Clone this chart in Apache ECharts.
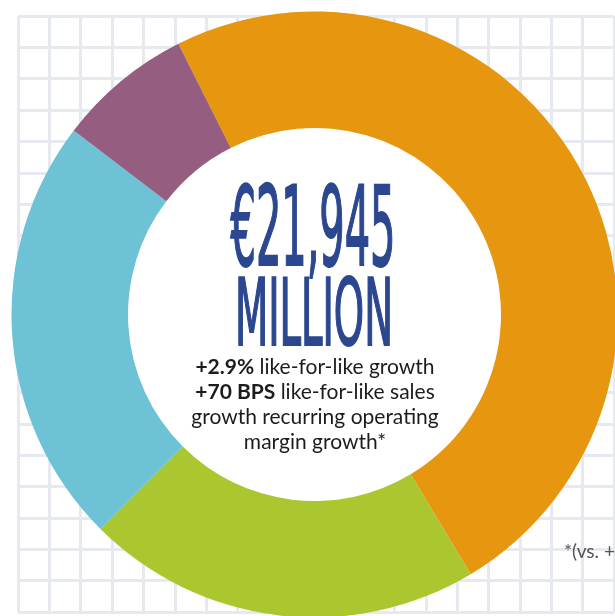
<!DOCTYPE html>
<html>
<head>
<meta charset="utf-8">
<script src="https://cdn.jsdelivr.net/npm/echarts@6/dist/echarts.min.js"></script>
<style>
  html, body { margin: 0; padding: 0; background: #fff; }
  #chart { width: 615px; height: 616px; }
</style>
</head>
<body>
<div id="chart"></div>
<script>
// share of sales by business (clockwise from the top-left split)
const segments = ['Segment A', 'Segment B', 'Segment C', 'Segment D'];
const shares = [48.8, 21.1, 22.9, 7.2];
const segmentColors = ['#e6960f', '#abc72f', '#6dc2d5', '#955e80'];

const headline = ['€21,945', 'MILLION'];
const subLines = [
  ['+2.9%', ' like-for-like growth'],
  ['+70 BPS', ' like-for-like sales'],
  ['', 'growth recurring operating'],
  ['', 'margin growth*'],
];
const footnote = '*(vs. +';

// graph-paper background cells
const gridCells = 19;

const center = [314.5, 314.5];
const innerR = 186.5;
const outerR = 303;

const headlineFont = '"Liberation Sans Narrow", "DejaVu Sans Condensed", sans-serif';
const bodyFont = 'Lato, "Noto Sans", sans-serif';

const measureCtx = document.createElement('canvas').getContext('2d');
function fitScale(text, size, target) {
  measureCtx.font = size + 'px ' + headlineFont;
  return target / measureCtx.measureText(text).width;
}

const subText = subLines
  .map(([b, n]) => (b ? '{b|' + b + '}' : '') + '{n|' + n + '}')
  .join('\n');

const chart = echarts.init(document.getElementById('chart'), null, { renderer: 'canvas' });

function paperAxis() {
  return {
    type: 'value',
    min: 0,
    max: gridCells,
    interval: 1,
    axisLine: { show: false },
    axisTick: { show: false },
    axisLabel: { show: false },
    splitLine: { show: true, lineStyle: { color: '#e7e9f1', width: 3, type: 'solid' } },
  };
}

chart.setOption({
  animation: false,
  backgroundColor: '#fff',
  grid: { left: 18, right: 1, top: 16, bottom: 4 },
  xAxis: paperAxis(),
  yAxis: paperAxis(),
  series: [
    {
      type: 'pie',
      center,
      radius: [0, innerR],
      silent: true,
      label: { show: false },
      itemStyle: { color: '#fff' },
      data: [{ value: 1, name: 'inner' }],
    },
    {
      type: 'pie',
      center,
      radius: [innerR, outerR],
      startAngle: 116.7,
      clockwise: true,
      silent: true,
      label: { show: false },
      labelLine: { show: false },
      itemStyle: { borderWidth: 0 },
      data: segments.map((name, i) => ({
        name,
        value: shares[i],
        itemStyle: { color: segmentColors[i] },
      })),
    },
  ],
  graphic: [
    {
      type: 'text',
      x: 313,
      y: 236,
      scaleX: fitScale(headline[0], 110, 165),
      z: 10,
      style: {
        text: headline[0],
        x: 0,
        y: 0,
        fontSize: 110,
        fontFamily: headlineFont,
        fill: '#2b478f',
        stroke: '#2b478f',
        lineWidth: 2,
        align: 'center',
        verticalAlign: 'middle',
      },
    },
    {
      type: 'text',
      x: 314,
      y: 321,
      scaleX: fitScale(headline[1], 92, 158),
      z: 10,
      style: {
        text: headline[1],
        x: 0,
        y: 0,
        fontSize: 92,
        fontFamily: headlineFont,
        fill: '#2b478f',
        stroke: '#2b478f',
        lineWidth: 2,
        align: 'center',
        verticalAlign: 'middle',
      },
    },
    {
      type: 'text',
      x: 315,
      y: 355,
      z: 10,
      style: {
        text: subText,
        x: 0,
        y: 0,
        align: 'center',
        verticalAlign: 'top',
        fill: '#1c1c1c',
        rich: {
          b: { fontSize: 21, lineHeight: 25, fontWeight: 'bold', fontFamily: bodyFont, fill: '#1c1c1c' },
          n: { fontSize: 21, lineHeight: 25, fontFamily: bodyFont, fill: '#1c1c1c' },
        },
      },
    },
    {
      type: 'text',
      x: 564,
      y: 552,
      z: 10,
      style: {
        text: footnote,
        fontSize: 19,
        fontFamily: bodyFont,
        fill: '#555',
        verticalAlign: 'middle',
      },
    },
  ],
});
</script>
</body>
</html>
